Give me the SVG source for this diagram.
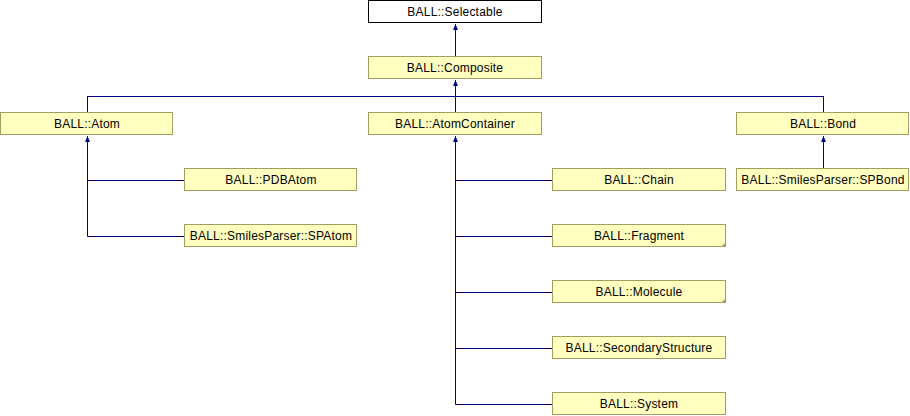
<svg xmlns="http://www.w3.org/2000/svg" width="910" height="416" viewBox="0 0 910 416">
<style>
.n rect{fill:#ffffc0;stroke:#9f9f60;stroke-width:1}
.n.w rect{fill:#ffffff;stroke:#000000}
.n text{font-family:"Liberation Sans",Arial,sans-serif;font-size:12px;letter-spacing:0.2px;fill:#000;text-anchor:middle}
.fold{fill:#9f9f60}
#edges path{fill:none;stroke:#000080;stroke-width:1}
#edges polygon{fill:#000080}
</style>
<rect width="910" height="416" fill="#ffffff"/>
<g id="edges">
<path d="M455.5 24V56"/>
<polygon points="455.5,24 453,30 458,30"/>
<path d="M455.5 80V112M87.5 96.5H823.5M87.5 96V112M823.5 96V112"/>
<polygon points="455.5,80 453,86 458,86"/>
<path d="M87.5 136V236.5M87.5 180.5H184M87.5 236.5H184"/>
<polygon points="87.5,136 85,142 90,142"/>
<path d="M455.5 136V404.5M455.5 180.5H552M455.5 236.5H552M455.5 292.5H552M455.5 348.5H552M455.5 404.5H552"/>
<polygon points="455.5,136 453,142 458,142"/>
<path d="M823.5 136V168"/>
<polygon points="823.5,136 821,142 826,142"/>
</g>
<g id="n-selectable" class="n w"><rect x="368.5" y="0.5" width="173" height="22"/><text x="455" y="16">BALL::Selectable</text></g>
<g id="n-composite" class="n"><rect x="368.5" y="56.5" width="173" height="22"/><text x="455" y="72">BALL::Composite</text></g>
<g id="n-atom" class="n"><rect x="0.5" y="112.5" width="172" height="22"/><text x="87" y="128">BALL::Atom</text></g>
<g id="n-atomcontainer" class="n"><rect x="368.5" y="112.5" width="173" height="22"/><text x="455" y="128">BALL::AtomContainer</text></g>
<g id="n-bond" class="n"><rect x="736.5" y="112.5" width="172" height="22"/><text x="823" y="128">BALL::Bond</text></g>
<g id="n-pdbatom" class="n"><rect x="184.5" y="168.5" width="172" height="22"/><text x="271" y="184">BALL::PDBAtom</text></g>
<g id="n-spatom" class="n"><rect x="184.5" y="224.5" width="172" height="22"/><text x="271" y="240">BALL::SmilesParser::SPAtom</text></g>
<g id="n-chain" class="n"><rect x="552.5" y="168.5" width="173" height="22"/><text x="639" y="184">BALL::Chain</text></g>
<g id="n-fragment" class="n"><rect x="552.5" y="224.5" width="173" height="22"/><polygon class="fold" points="721,247 726,242 726,247"/><text x="639" y="240">BALL::Fragment</text></g>
<g id="n-molecule" class="n"><rect x="552.5" y="280.5" width="173" height="22"/><polygon class="fold" points="721,303 726,298 726,303"/><text x="639" y="296">BALL::Molecule</text></g>
<g id="n-secondary" class="n"><rect x="552.5" y="336.5" width="173" height="22"/><text x="639" y="352">BALL::SecondaryStructure</text></g>
<g id="n-system" class="n"><rect x="552.5" y="392.5" width="173" height="22"/><text x="639" y="408">BALL::System</text></g>
<g id="n-spbond" class="n"><rect x="736.5" y="168.5" width="172" height="22"/><text x="823" y="184">BALL::SmilesParser::SPBond</text></g>
</svg>
